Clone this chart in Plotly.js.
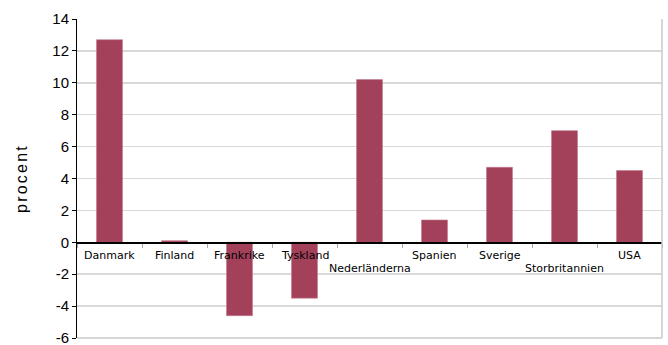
<!DOCTYPE html>
<html>
<head>
<meta charset="utf-8">
<script src="https://cdn.plot.ly/plotly-3.0.1.min.js"></script>
<style>
  html, body { margin: 0; padding: 0; background: #fff; }
  #chart { width: 668px; height: 345px; }
  #chart .ytitle { letter-spacing: 2.2px; }
</style>
</head>
<body>
<div id="chart"></div>
<script>
// Countries and their change, in percent
const countries = ['Danmark', 'Finland', 'Frankrike', 'Tyskland', 'Nederländerna',
                   'Spanien', 'Sverige', 'Storbritannien', 'USA'];
const values = [12.7, 0.1, -4.6, -3.5, 10.2, 1.4, 4.7, 7.0, 4.5];
// Labels pushed to a second row so long names do not collide
const secondRow = ['Nederländerna', 'Storbritannien'];
const yTicks = [-6, -4, -2, 0, 2, 4, 6, 8, 10, 12, 14];

const yMin = -6, yMax = 14;
const zeroPos = (0 - yMin) / (yMax - yMin);

const trace = {
  type: 'bar',
  x: countries,
  y: values,
  marker: { color: '#A3405A', line: { color: '#C27A8C', width: 0.6 } },
  hoverinfo: 'x+y'
};

const annotations = countries.map(c => ({
  x: c, y: 0, xref: 'x', yref: 'y',
  text: c, showarrow: false,
  xanchor: 'center', yanchor: 'top',
  yshift: secondRow.includes(c) ? -18 : -5,
  font: { family: 'DejaVu Sans', size: 11, color: '#000' }
}));

const layout = {
  width: 668, height: 345,
  margin: { l: 77, r: 6, t: 19, b: 7 },
  paper_bgcolor: '#fff', plot_bgcolor: '#fff',
  bargap: 0.6,
  showlegend: false,
  xaxis: {
    type: 'category',
    anchor: 'free', position: zeroPos,
    showline: true, linecolor: '#000', linewidth: 1.5,
    ticks: 'outside', tickson: 'boundaries', ticklen: 4, tickcolor: '#aaa', tickwidth: 1,
    showticklabels: false,
    showgrid: false, zeroline: false,
    fixedrange: true
  },
  yaxis: {
    range: [yMin, yMax],
    tickvals: yTicks,
    ticktext: yTicks.map(String),
    ticklabeloverflow: 'allow',
    showline: true, linecolor: '#000', linewidth: 1,
    ticks: 'outside', ticklen: 4, tickcolor: '#000',
    showgrid: true, gridcolor: '#d9d9d9', gridwidth: 1.5,
    zeroline: false,
    tickfont: { family: 'Liberation Sans, Arial, sans-serif', size: 15, color: '#000' },
    title: { text: 'procent', standoff: 20,
             font: { family: 'Liberation Sans, Arial, sans-serif', size: 16, color: '#000' } },
    fixedrange: true
  },
  shapes: [
    // frame on the right and along the bottom of the plot area
    { type: 'line', xref: 'paper', yref: 'paper', x0: 1, x1: 1, y0: 0, y1: 1,
      line: { color: '#c8c8c8', width: 1.5 } },
    { type: 'line', xref: 'paper', yref: 'paper', x0: 0, x1: 1, y0: 0, y1: 0,
      line: { color: '#c8c8c8', width: 1.5 } }
  ],
  annotations: annotations
};

Plotly.newPlot('chart', [trace], layout, { displayModeBar: false, staticPlot: true });
</script>
</body>
</html>
